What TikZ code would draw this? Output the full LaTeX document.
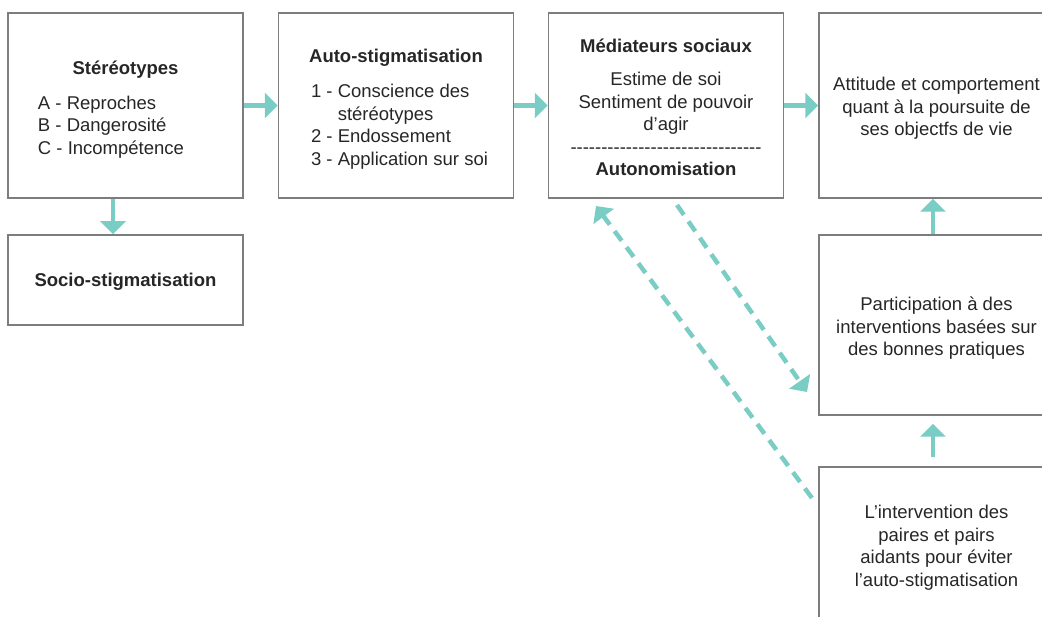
\documentclass[tikz,border=0pt]{standalone}
\usepackage{fontspec}
\setmainfont{Liberation Sans}[Ligatures=TeXOff]
\usetikzlibrary{arrows.meta}
\definecolor{linkteal}{RGB}{122,205,196}
\definecolor{framegray}{RGB}{125,125,125}

\begin{document}
\begin{tikzpicture}[x=1pt,y=-1pt,
  box/.style={draw=framegray, line width=1.5pt, minimum width=235pt, minimum height=185pt, inner sep=0pt},
  txt/.style={align=center, inner sep=0pt, text=black!85, font=\fontsize{18.5}{22.5}\selectfont},
  link/.style={draw=linkteal, line width=4.5pt, -{Triangle[width=25pt,length=13pt]}},
  dashlink/.style={link, dash pattern=on 12pt off 8pt}]
\useasboundingbox (0,0) rectangle (1042,617);

\node[box] (st) at (125.5,105.5) {};
\node[box] (au) at (396,105.5) {};
\node[box] (me) at (666,105.5) {};
\node[box] (at) at (936.5,105.5) {};
\node[box, minimum height=90pt] (so) at (125.5,280) {};
\node[box, minimum height=180pt] (pa) at (936.5,325) {};
\node[box, minimum height=156pt] (iv) at (936.5,545) {};

\node[txt, yshift=-5.5pt] (stT) at (st) {\textbf{Stéréotypes}\\[12.5pt]\begin{tabular}[t]{@{}l@{}}A - Reproches\\B - Dangerosité\\C - Incompétence\end{tabular}\hspace*{29pt}};
\node[txt, yshift=-5pt] (auT) at (au) {\textbf{Auto-stigmatisation}\\[12.5pt]\hspace*{7pt}\begin{tabular}[t]{@{}l@{}}1 - Conscience des\\\phantom{1 - }stéréotypes\\2 - Endossement\\3 - Application sur soi\end{tabular}};
\node[txt, yshift=-2pt] (meT) at (me) {\textbf{Médiateurs sociaux}\\[10.5pt]Estime de soi\\Sentiment de pouvoir\\d’agir\\-------------------------------\\\textbf{Autonomisation}};
\node[txt, yshift=-3pt] (atT) at (at) {Attitude et comportement\\quant à la poursuite de\\ses objectfs de vie};
\node[txt, yshift=-2pt] (soT) at (so) {\textbf{Socio-stigmatisation}};
\node[txt, yshift=-3.5pt] (paT) at (pa) {Participation à des\\interventions basées sur\\des bonnes pratiques};
\node[txt, yshift=-2.5pt] (ivT) at (iv) {L’intervention des\\paires et pairs\\aidants pour éviter\\l’auto-stigmatisation};

\draw[link] (st) -- (au);
\draw[link] (au) -- (me);
\draw[link] (me) -- (at);
\draw[link] ([xshift=-12.5pt]st.south) -- ([xshift=-12.5pt]so.north);
\draw[link] ([xshift=-3.5pt]pa.north) -- ([xshift=-3.5pt]at.south);
\draw[link, shorten <=9pt, shorten >=8pt] ([xshift=-3.5pt]iv.north) -- ([xshift=-3.5pt]pa.south);

\coordinate (outA) at (677,205);
\coordinate (inA) at (807,392);
\coordinate (outB) at (812,498);
\coordinate (inB) at (596,206);
\draw[dashlink] (outA) -- (inA);
\draw[dashlink] (outB) -- (inB);
\end{tikzpicture}
\end{document}
